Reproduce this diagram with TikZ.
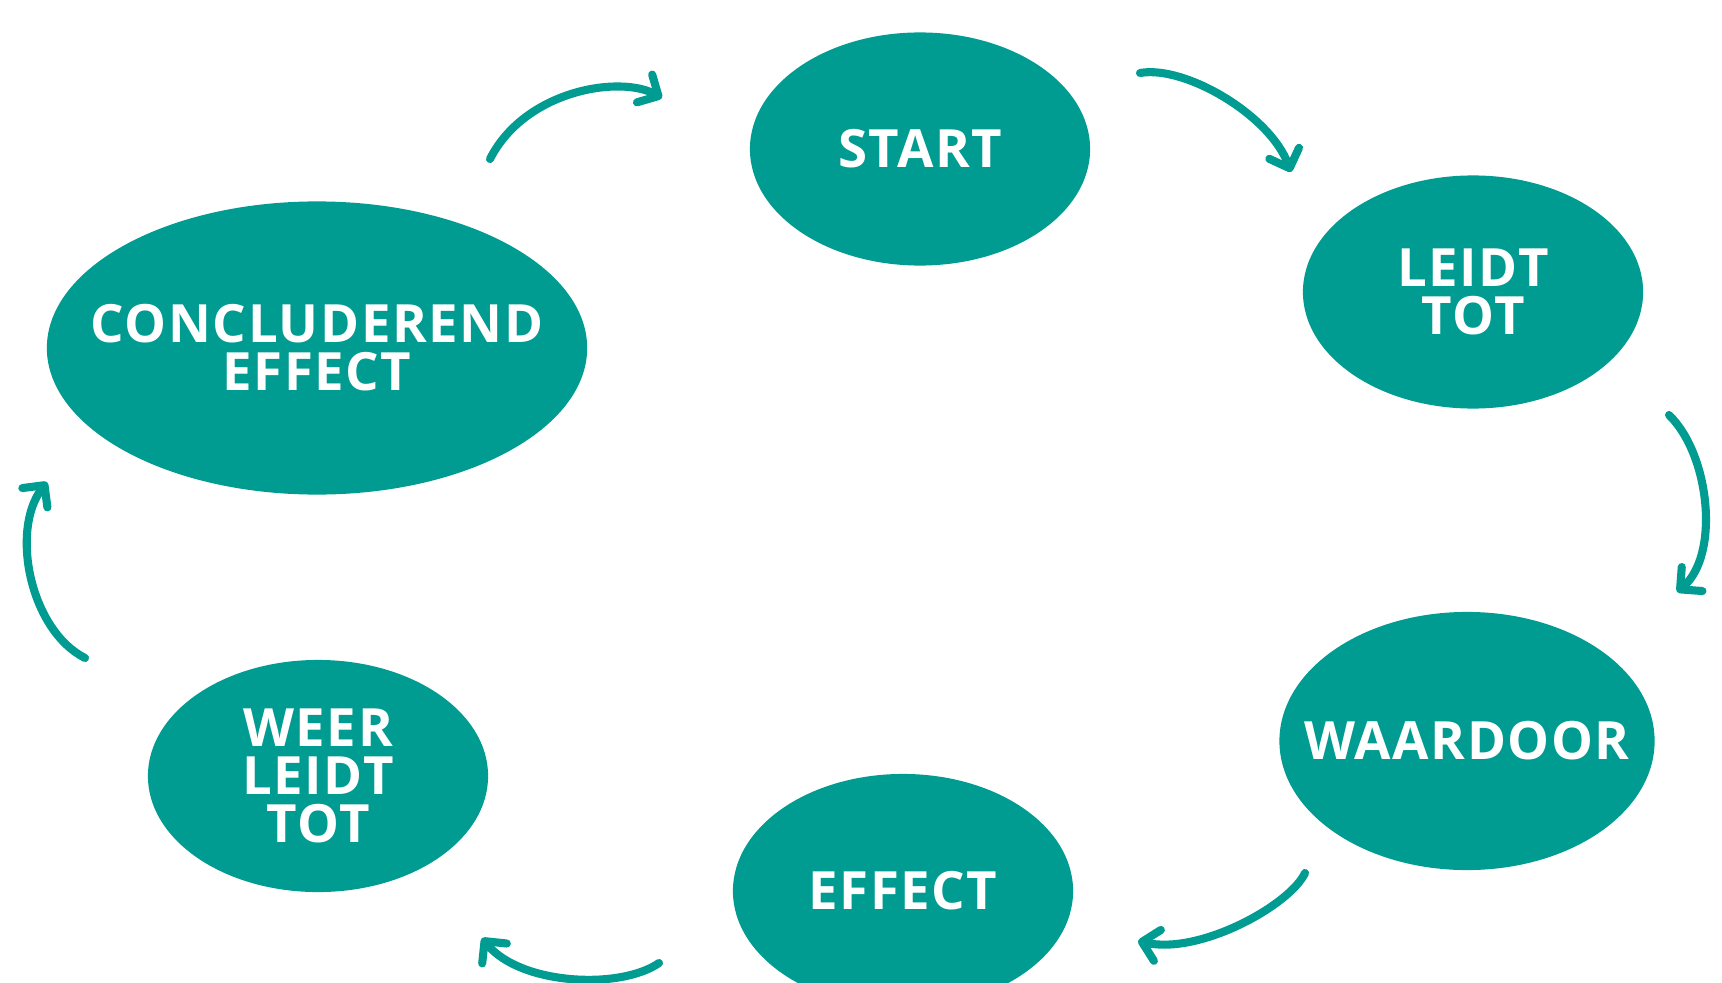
\documentclass[tikz,border=0pt]{standalone}
\usepackage{fontspec}
\setmainfont{Open Sans}[LetterSpace=3]
\usepackage{tikz}
\usetikzlibrary{shapes.geometric,arrows.meta}
\definecolor{teal1}{RGB}{0,155,145}
\tikzset{
  bubble/.style={ellipse, fill=teal1, text=white, inner xsep=-2cm, inner ysep=-1cm, align=center,
    font=\fontsize{15}{13.7}\selectfont\bfseries},
  flow/.style={draw=teal1, line width=2.3pt, line cap=round,
    -{Straight Barb[length=4.5pt,width=9pt,round]}}
}

\begin{document}
\begin{tikzpicture}[x=0.01cm, y=-0.01cm]
  \useasboundingbox (0,0) rectangle (1722,982);
  \node[bubble, minimum width=3.4cm, minimum height=2.33cm] (start) at (920,149) {START};
  \node[bubble, minimum width=3.4cm, minimum height=2.33cm] (leidt) at (1473,292) {LEIDT\\TOT};
  \node[bubble, minimum width=3.75cm, minimum height=2.58cm] (waardoor) at (1467,741) {WAARDOOR};
  \node[bubble, minimum width=3.4cm, minimum height=2.34cm] (effect) at (903,891) {EFFECT};
  \node[bubble, minimum width=3.4cm, minimum height=2.32cm] (weer) at (318,776) {WEER\\LEIDT\\TOT};
  \node[bubble, minimum width=5.4cm, minimum height=2.93cm] (concl) at (317,348) {CONCLUDEREND\\EFFECT};

  % loose ends of the curved arrows
  \coordinate (a1) at (490,159);  \coordinate (b1) at (662,98);
  \coordinate (a2) at (1140,73);  \coordinate (b2) at (1291,172);
  \coordinate (a3) at (1669,415); \coordinate (b3) at (1677,592);
  \coordinate (a4) at (1305,873); \coordinate (b4) at (1138,941);
  \coordinate (a5) at (659,963);  \coordinate (b5) at (482,938);
  \coordinate (a6) at (85,658);   \coordinate (b6) at (47,482);

  \draw[flow] (a1) .. controls (525,90) and (620,75) .. (b1);
  \draw[flow] (a2) .. controls (1185,65) and (1270,115) .. (b2);
  \draw[flow] (a3) .. controls (1710,455) and (1720,555) .. (b3);
  \draw[flow] (a4) .. controls (1290,905) and (1200,955) .. (b4);
  \draw[flow] (a5) .. controls (620,990) and (520,985) .. (b5);
  \draw[flow] (a6) .. controls (30,630) and (10,530) .. (b6);
\end{tikzpicture}
\end{document}
